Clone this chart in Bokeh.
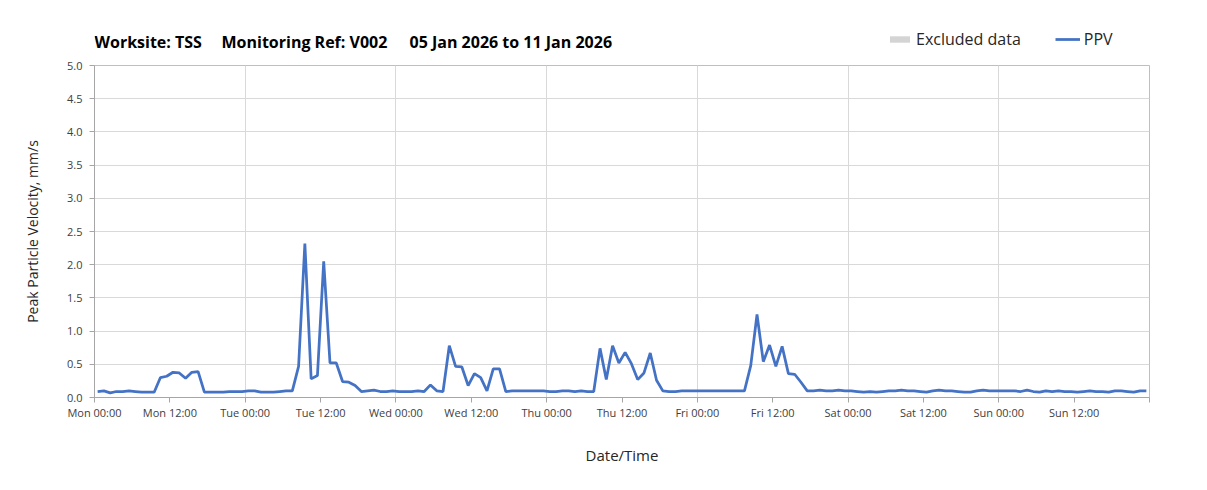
from datetime import datetime, timedelta
from bokeh.plotting import figure
from bokeh.layouts import column
from bokeh.models import (ColumnDataSource, FixedTicker, DatetimeTickFormatter, Range1d,
                          Legend, LegendItem, Label, NumeralTickFormatter)
from bokeh.embed import file_html
from bokeh.resources import INLINE

# ---- data ----
start = datetime(2026, 1, 5, 0, 30)
ppv = [
    0.09, 0.10, 0.07, 0.09, 0.09, 0.10, 0.09, 0.08, 0.08, 0.08,
    0.30, 0.32, 0.38, 0.37, 0.29, 0.38, 0.39, 0.08, 0.08, 0.08,
    0.08, 0.09, 0.09, 0.09, 0.10, 0.10, 0.08, 0.08, 0.08, 0.09,
    0.10, 0.10, 0.47, 2.32, 0.28, 0.33, 2.05, 0.52, 0.52, 0.24,
    0.23, 0.18, 0.09, 0.10, 0.11, 0.09, 0.09, 0.10, 0.09, 0.09,
    0.09, 0.10, 0.09, 0.19, 0.10, 0.09, 0.78, 0.47, 0.46, 0.18,
    0.36, 0.30, 0.10, 0.43, 0.43, 0.09, 0.10, 0.10, 0.10, 0.10,
    0.10, 0.10, 0.09, 0.09, 0.10, 0.10, 0.09, 0.10, 0.09, 0.09,
    0.74, 0.27, 0.78, 0.52, 0.68, 0.51, 0.27, 0.37, 0.67, 0.26,
    0.10, 0.09, 0.09, 0.10, 0.10, 0.10, 0.10, 0.10, 0.10, 0.10,
    0.10, 0.10, 0.10, 0.10, 0.48, 1.25, 0.54, 0.79, 0.47, 0.77,
    0.36, 0.35, 0.23, 0.10, 0.10, 0.11, 0.10, 0.10, 0.11, 0.10,
    0.10, 0.09, 0.08, 0.09, 0.08, 0.09, 0.10, 0.10, 0.11, 0.10,
    0.10, 0.09, 0.08, 0.10, 0.11, 0.10, 0.10, 0.09, 0.08, 0.08,
    0.10, 0.11, 0.10, 0.10, 0.10, 0.10, 0.10, 0.09, 0.11, 0.09,
    0.08, 0.10, 0.09, 0.10, 0.09, 0.09, 0.08, 0.09, 0.10, 0.09,
    0.09, 0.08, 0.10, 0.10, 0.09, 0.08, 0.10, 0.10,
]
times = [start + timedelta(hours=i) for i in range(len(ppv))]
y_ticks = [0.0, 0.5, 1.0, 1.5, 2.0, 2.5, 3.0, 3.5, 4.0, 4.5, 5.0]
title_parts = ["Worksite: TSS", "Monitoring Ref: V002", "05 Jan 2026 to 11 Jan 2026"]
legend_labels = ["Excluded data", "PPV"]
excluded_periods = dict(l=[float("nan")], r=[float("nan")], b=[float("nan")], t=[float("nan")])

x0 = datetime(2026, 1, 5)
x1 = datetime(2026, 1, 12)
ms = lambda d: (d - datetime(1970, 1, 1)).total_seconds() * 1000.0
x_ticks = [ms(x0 + timedelta(hours=12 * i)) for i in range(15)]
x_grid = [ms(x0 + timedelta(days=i)) for i in range(1, 7)]

FONT = "Open Sans"
BLUE = "#4472C4"
GREY = "#d4d4d4"

# ---- header (title + legend); its frame is aligned with the chart frame ----
HH = 52
h = figure(width=1200, height=HH, output_backend="svg", toolbar_location=None,
           x_axis_location=None, y_axis_location=None,
           x_range=Range1d(0, 1), y_range=Range1d(0, 1),
           min_border=0, min_border_left=0, min_border_right=0,
           min_border_top=0, min_border_bottom=0)
h.grid.visible = False
h.outline_line_color = None
h.background_fill_color = "white"
h.border_fill_color = "white"
r_excl = h.quad(left="l", right="r", bottom="b", top="t",
                source=ColumnDataSource(excluded_periods),
                fill_color=GREY, line_color=None)
r_ppv_key = h.line(x=[float("nan")], y=[float("nan")], line_color=BLUE, line_width=2.75)
legend = Legend(items=[LegendItem(label=legend_labels[0], renderers=[r_excl]),
                       LegendItem(label=legend_labels[1], renderers=[r_ppv_key])],
                orientation="horizontal", location=(793, HH - 50),
                padding=0, margin=0, spacing=34, label_standoff=4,
                glyph_width=25, glyph_height=8, label_height=20,
                border_line_color=None, background_fill_alpha=0,
                label_text_font=FONT, label_text_font_size="16px",
                label_text_color="#262626")
h.add_layout(legend, "center")
for txt, xs in zip(title_parts, [0, 127, 315]):
    h.add_layout(Label(x=xs, y=HH - 41, x_units="screen", y_units="screen", text=txt,
                       text_font=FONT, text_font_size="16px", text_font_style="bold",
                       text_color="black", text_baseline="alphabetic"))

# ---- main chart ----
p = figure(width=1200, height=482 - HH, x_axis_type="datetime",
           output_backend="svg", toolbar_location=None,
           x_range=Range1d(ms(x0), ms(x1)), y_range=Range1d(0, 5),
           min_border_left=94, min_border_right=51, min_border_top=65 - HH,
           min_border_bottom=85)
p.background_fill_color = "white"
p.border_fill_color = "white"
p.outline_line_color = "#bfbfbf"

src = ColumnDataSource(dict(t=times, v=ppv))
p.line("t", "v", source=src, line_color=BLUE, line_width=2.75)

p.xaxis.ticker = FixedTicker(ticks=x_ticks)
p.xaxis.formatter = DatetimeTickFormatter(hours="%a %H:%M", days="%a %H:%M", minutes="%a %H:%M")
p.xaxis.major_label_overrides = {x_ticks[-1]: ""}
p.yaxis.ticker = FixedTicker(ticks=y_ticks)
p.yaxis.formatter = NumeralTickFormatter(format="0.0")
for ax in (p.xaxis, p.yaxis):
    ax.axis_line_color = "#a6a6a6"
    ax.major_tick_line_color = "#a6a6a6"
    ax.major_tick_out = 5
    ax.major_tick_in = 0
    ax.minor_tick_line_color = None
    ax.major_label_text_font = FONT
    ax.major_label_text_font_size = "11px"
    ax.major_label_text_color = "#404040"
    ax.axis_label_text_font = FONT
    ax.axis_label_text_font_style = "normal"
    ax.axis_label_text_color = "#262626"
p.xaxis.axis_label = "Date/Time"
p.xaxis.axis_label_text_font_size = "15px"
p.xaxis.axis_label_standoff = 22
p.xaxis.major_label_standoff = 2
p.yaxis.axis_label = "Peak Particle Velocity, mm/s"
p.yaxis.axis_label_text_font_size = "14px"
p.yaxis.axis_label_standoff = 22
p.yaxis.major_label_standoff = 7

p.xgrid.ticker = FixedTicker(ticks=x_grid)
p.xgrid.grid_line_color = "#d9d9d9"
p.ygrid.grid_line_color = "#d9d9d9"

layout = column(h, p, spacing=0)
open("out.html", "w").write(file_html(layout, INLINE))
